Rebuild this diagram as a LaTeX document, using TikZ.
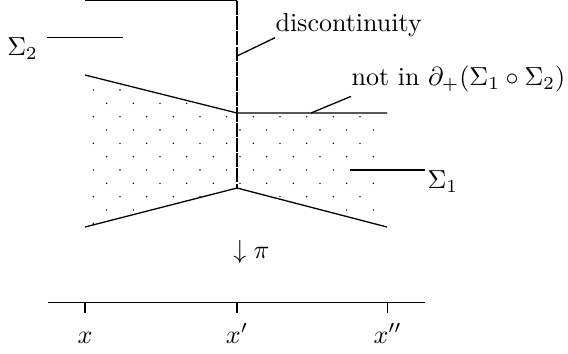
\documentclass[tikz,border=0pt]{standalone}
\usepackage{amsmath,amssymb}
\usetikzlibrary{calc}

\tikzset{
  edge/.style={line width=0.5pt},
  leader/.style={line width=0.5pt},
  axis/.style={line width=0.4pt},
  lbl/.style={inner sep=0pt},
  grain/.style={fill=black}
}

\begin{document}
\begin{tikzpicture}[x=0.384pt, y=-0.384pt]
  \useasboundingbox (0,0) rectangle (568,353);

  % corners of the dotted region
  \coordinate (ul) at (85,75);
  \coordinate (um) at (237,113);
  \coordinate (ur) at (387,113);
  \coordinate (ll) at (85,227);
  \coordinate (lm) at (237,188);
  \coordinate (lr) at (387,227);
  \coordinate (tl) at (85,0.8);
  \coordinate (tm) at (237,0.8);

  % dots inside
  \begin{scope}
    \clip (ul) -- (um) -- (383,113) -- (383,226) -- (lm) -- (ll) -- cycle;
    \foreach \j in {0,...,10}{
      \pgfmathsetmacro{\off}{mod(\j,2)*13.333}
      \foreach \i in {0,...,11}
        \fill[grain] ({93.333+\off+\i*26.667},{90+\j*13.333}) circle (0.3pt);
    }
  \end{scope}

  % boundary and discontinuity
  \draw[edge] (ul) -- (um) -- (ur);
  \draw[edge] (ll) -- (lm) -- (lr);
  \draw[edge] (tl) -- (tm);
  \draw[edge, dash pattern=on 5.4pt off 0.45pt] (tm) -- (lm);

  % labels with leaders
  \node[lbl, anchor=south west] (disc) at (275,37.7) {discontinuity};
  \coordinate (dfoot) at (237,56);
  \draw[leader] (dfoot) -- (disc.south west);

  \node[lbl, anchor=south west] (notin) at (351,93) {not in $\partial_+(\Sigma_1\circ\Sigma_2)$};
  \coordinate (nfoot) at (311,113);
  \draw[leader] (nfoot) -- ([yshift=-1.3pt]notin.south west);

  \node[lbl, anchor=north west] (s1) at (427,170) {$\Sigma_1$};
  \coordinate (s1end) at (350,170);
  \draw[leader] ([xshift=-0.8pt]s1.north west) -- (s1end);

  \node[lbl, anchor=north east] (s2) at (38.3,37.3) {$\Sigma_2$};
  \coordinate (s2end) at (123,37.3);
  \draw[leader] ([xshift=3.4pt]s2.north east) -- (s2end);

  % projection
  \node[lbl, anchor=base] (proj) at (251.3,258) {$\downarrow\pi$};

  % base line
  \coordinate (al) at (48,302.3);
  \coordinate (ar) at (425,302.3);
  \draw[axis] (al) -- (ar);
  \foreach \p/\t/\n in {85/x/a, 237/x'/b, 387.7/x''/c}{
    \draw[axis] (\p,302.3) -- (\p,313);
    \node[anchor=base] (lab\n) at (\p,343) {$\t$};
  }
\end{tikzpicture}
\end{document}
